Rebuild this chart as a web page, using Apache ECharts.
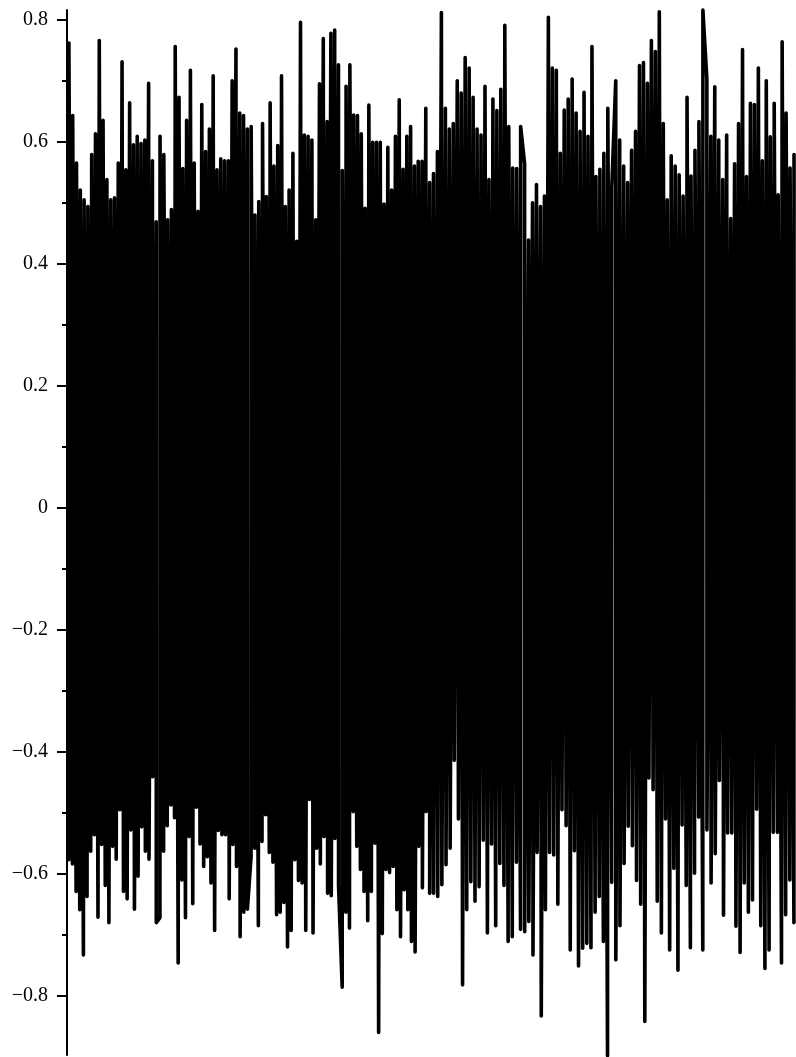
<!DOCTYPE html>
<html>
<head>
<meta charset="utf-8">
<script src="https://cdn.jsdelivr.net/npm/echarts@6/dist/echarts.min.js"></script>
<style>
  html, body { margin: 0; padding: 0; background: #fff; }
  #chart { width: 796px; height: 1057px; }
</style>
</head>
<body>
<div id="chart"></div>
<script>
// peak values, left half and right half of the trace
const upperLeft = [
  0.762, 0.643, 0.565, 0.521, 0.505, 0.494, 0.579, 0.613, 0.766, 0.635,
  0.538, 0.505, 0.508, 0.565, 0.731, 0.554, 0.664, 0.595, 0.609, 0.597,
  0.603, 0.696, 0.569, 0.469, 0.609, 0.579, 0.472, 0.489, 0.756, 0.673,
  0.556, 0.635, 0.717, 0.565, 0.486, 0.661, 0.584, 0.621, 0.708, 0.554,
  0.572, 0.569, 0.569, 0.700, 0.752, 0.647, 0.643, 0.621, 0.625, 0.480,
  0.502, 0.630, 0.510, 0.664, 0.560, 0.594, 0.708, 0.494, 0.521, 0.581,
  0.437, 0.796, 0.611, 0.609, 0.603, 0.472, 0.695, 0.769, 0.633, 0.778,
  0.783, 0.726, 0.553, 0.691, 0.726, 0.644, 0.643, 0.613, 0.491, 0.660,
  0.599, 0.599, 0.599, 0.498, 0.591, 0.521, 0.609, 0.669, 0.555, 0.609,
  0.625, 0.560, 0.568, 0.568, 0.655, 0.533
];
const lowerLeft = [
  -0.577, -0.584, -0.629, -0.659, -0.733, -0.637, -0.563, -0.536, -0.671, -0.552,
  -0.619, -0.680, -0.555, -0.576, -0.495, -0.629, -0.641, -0.528, -0.658, -0.604,
  -0.523, -0.563, -0.576, -0.441, -0.680, -0.672, -0.563, -0.521, -0.487, -0.508,
  -0.746, -0.610, -0.672, -0.539, -0.649, -0.491, -0.551, -0.588, -0.572, -0.615,
  -0.693, -0.529, -0.536, -0.536, -0.641, -0.552, -0.588, -0.703, -0.663, -0.658,
  -0.572, -0.558, -0.685, -0.547, -0.503, -0.565, -0.581, -0.667, -0.663, -0.647,
  -0.720, -0.693, -0.577, -0.611, -0.615, -0.693, -0.478, -0.697, -0.558, -0.584,
  -0.539, -0.632, -0.636, -0.542, -0.620, -0.786, -0.663, -0.689, -0.498, -0.555,
  -0.593, -0.629, -0.677, -0.629, -0.550, -0.860, -0.698, -0.593, -0.598, -0.588,
  -0.659, -0.703, -0.626, -0.659, -0.711, -0.728, -0.555, -0.623, -0.498, -0.632
];
const upperRight = [
  0.548, 0.584, 0.812, 0.655, 0.621, 0.630, 0.700, 0.680, 0.738, 0.721,
  0.673, 0.621, 0.611, 0.691, 0.538, 0.670, 0.651, 0.686, 0.791, 0.625,
  0.557, 0.556, 0.625, 0.564, 0.439, 0.500, 0.530, 0.494, 0.511, 0.804,
  0.721, 0.717, 0.581, 0.652, 0.670, 0.703, 0.647, 0.617, 0.681, 0.609,
  0.756, 0.543, 0.555, 0.581, 0.655, 0.524, 0.700, 0.603, 0.560, 0.533,
  0.586, 0.617, 0.725, 0.730, 0.696, 0.766, 0.748, 0.813, 0.630, 0.505,
  0.577, 0.560, 0.546, 0.511, 0.673, 0.544, 0.586, 0.633, 0.816, 0.703,
  0.609, 0.690, 0.603, 0.538, 0.611, 0.474, 0.564, 0.630, 0.751, 0.543,
  0.663, 0.661, 0.721, 0.569, 0.700, 0.608, 0.663, 0.513, 0.764, 0.647,
  0.557, 0.579
];
const lowerRight = [
  -0.632, -0.637, -0.618, -0.585, -0.558, -0.414, -0.510, -0.782, -0.659, -0.613,
  -0.645, -0.621, -0.545, -0.697, -0.551, -0.685, -0.583, -0.619, -0.711, -0.703,
  -0.581, -0.691, -0.695, -0.678, -0.733, -0.565, -0.833, -0.659, -0.565, -0.569,
  -0.650, -0.495, -0.521, -0.725, -0.562, -0.751, -0.722, -0.714, -0.721, -0.663,
  -0.637, -0.711, -0.898, -0.614, -0.741, -0.685, -0.583, -0.522, -0.554, -0.611,
  -0.650, -0.842, -0.443, -0.462, -0.645, -0.697, -0.510, -0.725, -0.591, -0.758,
  -0.520, -0.619, -0.721, -0.599, -0.507, -0.725, -0.528, -0.615, -0.567, -0.447,
  -0.668, -0.533, -0.533, -0.686, -0.729, -0.615, -0.663, -0.643, -0.494, -0.685,
  -0.755, -0.725, -0.532, -0.532, -0.746, -0.667, -0.610, -0.680
];
const majorTicks = [-0.8, -0.6, -0.4, -0.2, 0, 0.2, 0.4, 0.6, 0.8];
const minorTicks = [-0.7, -0.5, -0.3, -0.1, 0.1, 0.3, 0.5, 0.7];

// spread peaks evenly over each half and merge them in order, so tops and bottoms alternate
function mergeHalf(tops, lows, offset) {
  const pts = tops.map((v, i) => [offset + (i + 0.5) / tops.length, v])
    .concat(lows.map((v, j) => [offset + (j + 0.5) / lows.length, v]));
  pts.sort((a, b) => a[0] - b[0]);
  return pts;
}
const signal = mergeHalf(upperLeft, lowerLeft, 0).concat(mergeHalf(upperRight, lowerRight, 1));

function tickLabel(v) {
  if (v === 0) return "0";
  return v.toFixed(1).replace("-", "\u2212");
}

const chart = echarts.init(document.getElementById("chart"));
chart.setOption({
  animation: false,
  grid: { left: 67, right: 0, top: 10, bottom: 2, outerBoundsMode: "none" },
  xAxis: { type: "value", min: 0, max: 2, show: false },
  yAxis: [
    {
      type: "value",
      min: -0.897,
      max: 0.816,
      position: "left",
      axisLine: { show: true, lineStyle: { color: "#000", width: 2 } },
      axisTick: { show: true, customValues: majorTicks, length: 10, lineStyle: { color: "#000", width: 2 } },
      axisLabel: {
        customValues: majorTicks,
        formatter: tickLabel,
        margin: 19,
        color: "#000",
        fontFamily: "Liberation Serif, Times New Roman, serif",
        fontSize: 20,
      },
      splitLine: { show: false },
    },
    {
      type: "value",
      min: -0.897,
      max: 0.816,
      position: "left",
      offset: 0,
      axisLine: { show: false },
      axisTick: { show: true, customValues: minorTicks, length: 5, lineStyle: { color: "#000", width: 2 } },
      axisLabel: { show: false },
      splitLine: { show: false },
    },
  ],
  series: [
    {
      type: "line",
      data: signal,
      yAxisIndex: 0,
      symbol: "none",
      clip: false,
      lineStyle: { color: "#000", width: 3.6, cap: "round", join: "round" },
    },
  ],
});
</script>
</body>
</html>
